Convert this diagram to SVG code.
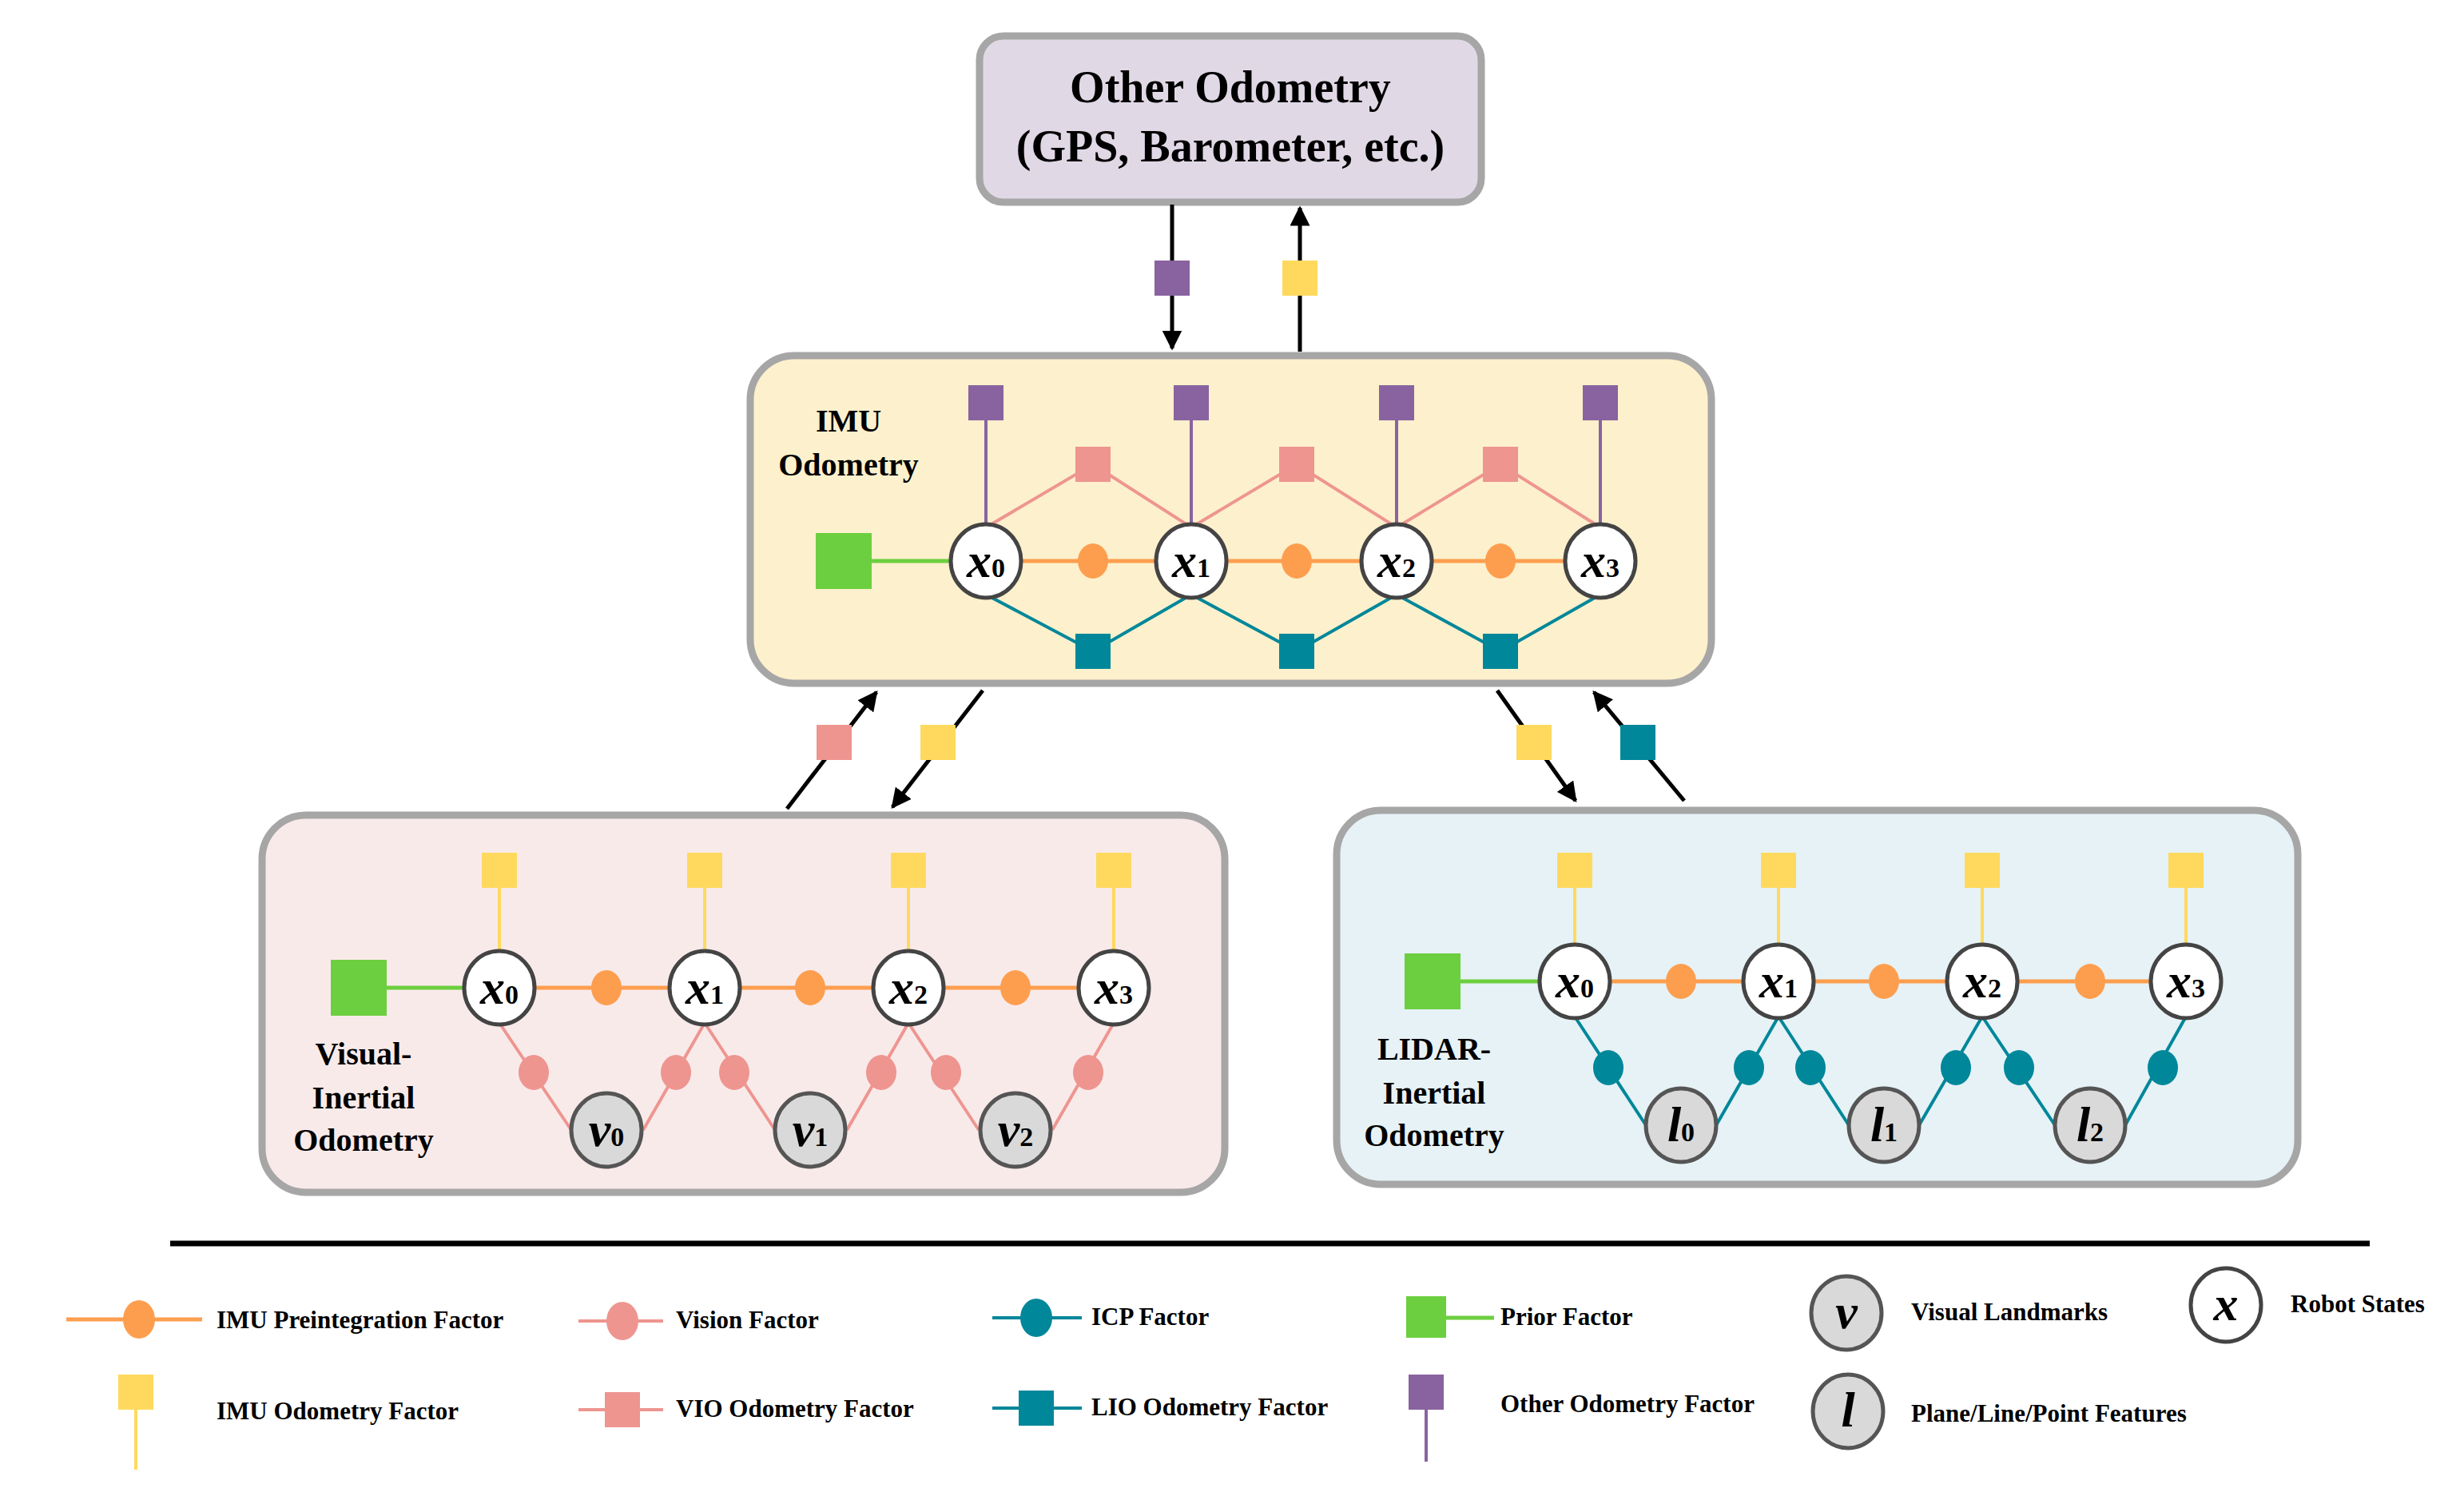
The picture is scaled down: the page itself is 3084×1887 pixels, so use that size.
<svg xmlns="http://www.w3.org/2000/svg" width="3084" height="1887" viewBox="0 0 3084 1887">
<defs>
<marker id="ah" viewBox="0 0 10 10" refX="9" refY="5" markerWidth="5" markerHeight="5" orient="auto"><path d="M0,0 L10,5 L0,10 z" fill="#000"/></marker>
<style>
.box{stroke:#a6a6a6;stroke-width:9}
.t{font-family:'Liberation Serif','Times New Roman','DejaVu Serif',serif;font-weight:bold;fill:#000}
.st{fill:#fff;stroke:#444;stroke-width:5}
.lm{fill:#d9d9d9;stroke:#555;stroke-width:5}
.nl{font-family:'Liberation Serif','Times New Roman','DejaVu Serif',serif;font-weight:bold;font-style:italic;font-size:62px;text-anchor:middle}
.sub{font-style:normal;font-size:34px}
.or{stroke:#fd9e4f;stroke-width:5}
.pk{stroke:#ee9590;stroke-width:4}
.tl{stroke:#00879a;stroke-width:4}
.pu{stroke:#8963a0;stroke-width:4}
.ye{stroke:#fed95e;stroke-width:4}
.gr{stroke:#6ccf3f;stroke-width:5}
.ar{stroke:#000;stroke-width:5;marker-end:url(#ah)}
.lt{font-family:'Liberation Serif','Times New Roman','DejaVu Serif',serif;font-weight:bold;font-size:31px}
</style>
</defs>
<rect width="3084" height="1887" fill="#fff"/>

<g id="other-odometry">
<rect class="box" x="1226" y="45" width="628" height="208" rx="30" fill="#e1d8e6"/>
<text class="t" x="1540" y="128" font-size="56" text-anchor="middle">Other Odometry</text>
<text class="t" x="1540" y="202" font-size="56" text-anchor="middle">(GPS, Barometer, etc.)</text>
</g>

<g id="imu-box">
<rect class="box" x="939" y="445" width="1203" height="410" rx="55" fill="#fdf0cc"/>
<text class="t" x="1062" y="540" font-size="40" text-anchor="middle">IMU</text>
<text class="t" x="1062" y="595" font-size="40" text-anchor="middle">Odometry</text>
</g>
<g id="vio-box">
<rect class="box" x="328" y="1020" width="1205" height="472" rx="55" fill="#f9eaea"/>
<text class="t" x="455" y="1332" font-size="40" text-anchor="middle">Visual-</text>
<text class="t" x="455" y="1387" font-size="40" text-anchor="middle">Inertial</text>
<text class="t" x="455" y="1440" font-size="40" text-anchor="middle">Odometry</text>
</g>
<g id="lio-box">
<rect class="box" x="1673" y="1014" width="1203" height="468" rx="55" fill="#e6f2f6"/>
<text class="t" x="1795" y="1326" font-size="40" text-anchor="middle">LIDAR-</text>
<text class="t" x="1795" y="1381" font-size="40" text-anchor="middle">Inertial</text>
<text class="t" x="1795" y="1434" font-size="40" text-anchor="middle">Odometry</text>
</g>

<g id="connectors">
<line class="ar" x1="1467" y1="256" x2="1467" y2="436"/>
<line class="ar" x1="1627" y1="440" x2="1627" y2="260"/>
<line class="ar" x1="985" y1="1012" x2="1097" y2="866"/>
<line class="ar" x1="1230" y1="864" x2="1117" y2="1010"/>
<line class="ar" x1="1874" y1="864" x2="1972" y2="1002"/>
<line class="ar" x1="2108" y1="1002" x2="1995" y2="866"/>
<line class="gr" x1="1090" y1="702" x2="1190" y2="702"/>
<line class="or" x1="1234" y1="702" x2="2003" y2="702"/>
<path class="pk" fill="none" d="M1234,660 L1368,581 L1491,660 L1623,581 L1748,660 L1878,581 L2003,660"/>
<path class="tl" fill="none" d="M1234,744 L1368,815 L1491,744 L1623,815 L1748,744 L1878,815 L2003,744"/>
<line class="pu" x1="1234" y1="504" x2="1234" y2="660"/>
<line class="pu" x1="1491" y1="504" x2="1491" y2="660"/>
<line class="pu" x1="1748" y1="504" x2="1748" y2="660"/>
<line class="pu" x1="2003" y1="504" x2="2003" y2="660"/>
<line class="gr" x1="470" y1="1236" x2="590" y2="1236"/>
<line class="or" x1="625" y1="1236" x2="1394" y2="1236"/>
<line class="ye" x1="625" y1="1089" x2="625" y2="1190"/>
<line class="ye" x1="882" y1="1089" x2="882" y2="1190"/>
<line class="ye" x1="1137" y1="1089" x2="1137" y2="1190"/>
<line class="ye" x1="1394" y1="1089" x2="1394" y2="1190"/>
<path class="pk" fill="none" d="M625,1280 L715,1414 M882,1280 L805,1414 M882,1280 L970,1414 M1137,1280 L1060,1414 M1137,1280 L1225,1414 M1394,1280 L1317,1414"/>
<line class="gr" x1="1815" y1="1228" x2="1935" y2="1228"/>
<line class="or" x1="1971" y1="1228" x2="2736" y2="1228"/>
<line class="ye" x1="1971" y1="1089" x2="1971" y2="1185"/>
<line class="ye" x1="2226" y1="1089" x2="2226" y2="1185"/>
<line class="ye" x1="2481" y1="1089" x2="2481" y2="1185"/>
<line class="ye" x1="2736" y1="1089" x2="2736" y2="1185"/>
<path class="tl" fill="none" d="M1971,1272 L2060,1408 M2226,1272 L2148,1408 M2226,1272 L2314,1408 M2481,1272 L2402,1408 M2481,1272 L2572,1408 M2736,1272 L2660,1408"/>
<line stroke="#000" stroke-width="7" x1="213" y1="1556" x2="2966" y2="1556"/>
</g>

<g id="factors">
<rect x="1445" y="326" width="44" height="44" fill="#8963a0"/>
<rect x="1605" y="326" width="44" height="44" fill="#fed95e"/>
<rect x="1022" y="907" width="44" height="44" fill="#ee9590"/>
<rect x="1152" y="907" width="44" height="44" fill="#fed95e"/>
<rect x="1898" y="907" width="44" height="44" fill="#fed95e"/>
<rect x="2028" y="907" width="44" height="44" fill="#00879a"/>
<rect x="1021" y="667" width="70" height="70" fill="#6ccf3f"/>
<rect x="1212" y="482" width="44" height="44" fill="#8963a0"/>
<rect x="1469" y="482" width="44" height="44" fill="#8963a0"/>
<rect x="1726" y="482" width="44" height="44" fill="#8963a0"/>
<rect x="1981" y="482" width="44" height="44" fill="#8963a0"/>
<rect x="1346" y="559" width="44" height="44" fill="#ee9590"/>
<rect x="1601" y="559" width="44" height="44" fill="#ee9590"/>
<rect x="1856" y="559" width="44" height="44" fill="#ee9590"/>
<rect x="1346" y="793" width="44" height="44" fill="#00879a"/>
<rect x="1601" y="793" width="44" height="44" fill="#00879a"/>
<rect x="1856" y="793" width="44" height="44" fill="#00879a"/>
<ellipse cx="1368" cy="702" rx="19" ry="22" fill="#fd9e4f"/>
<ellipse cx="1623" cy="702" rx="19" ry="22" fill="#fd9e4f"/>
<ellipse cx="1878" cy="702" rx="19" ry="22" fill="#fd9e4f"/>
<rect x="414" y="1201" width="70" height="70" fill="#6ccf3f"/>
<rect x="603" y="1067" width="44" height="44" fill="#fed95e"/>
<rect x="860" y="1067" width="44" height="44" fill="#fed95e"/>
<rect x="1115" y="1067" width="44" height="44" fill="#fed95e"/>
<rect x="1372" y="1067" width="44" height="44" fill="#fed95e"/>
<ellipse cx="759" cy="1236" rx="19" ry="22" fill="#fd9e4f"/>
<ellipse cx="1014" cy="1236" rx="19" ry="22" fill="#fd9e4f"/>
<ellipse cx="1271" cy="1236" rx="19" ry="22" fill="#fd9e4f"/>
<ellipse cx="668" cy="1342" rx="19" ry="22" fill="#ee9590"/>
<ellipse cx="846" cy="1342" rx="19" ry="22" fill="#ee9590"/>
<ellipse cx="919" cy="1342" rx="19" ry="22" fill="#ee9590"/>
<ellipse cx="1103" cy="1342" rx="19" ry="22" fill="#ee9590"/>
<ellipse cx="1184" cy="1342" rx="19" ry="22" fill="#ee9590"/>
<ellipse cx="1362" cy="1342" rx="19" ry="22" fill="#ee9590"/>
<rect x="1758" y="1193" width="70" height="70" fill="#6ccf3f"/>
<rect x="1949" y="1067" width="44" height="44" fill="#fed95e"/>
<rect x="2204" y="1067" width="44" height="44" fill="#fed95e"/>
<rect x="2459" y="1067" width="44" height="44" fill="#fed95e"/>
<rect x="2714" y="1067" width="44" height="44" fill="#fed95e"/>
<ellipse cx="2104" cy="1228" rx="19" ry="22" fill="#fd9e4f"/>
<ellipse cx="2358" cy="1228" rx="19" ry="22" fill="#fd9e4f"/>
<ellipse cx="2616" cy="1228" rx="19" ry="22" fill="#fd9e4f"/>
<ellipse cx="2013" cy="1336" rx="19" ry="22" fill="#00879a"/>
<ellipse cx="2189" cy="1336" rx="19" ry="22" fill="#00879a"/>
<ellipse cx="2266" cy="1336" rx="19" ry="22" fill="#00879a"/>
<ellipse cx="2448" cy="1336" rx="19" ry="22" fill="#00879a"/>
<ellipse cx="2527" cy="1336" rx="19" ry="22" fill="#00879a"/>
<ellipse cx="2707" cy="1336" rx="19" ry="22" fill="#00879a"/>
</g>

<g id="imu-x0"><ellipse class="st" cx="1234" cy="702" rx="44" ry="46"/><text class="nl" x="1234" y="722">x<tspan class="sub">0</tspan></text></g>
<g id="imu-x1"><ellipse class="st" cx="1491" cy="702" rx="44" ry="46"/><text class="nl" x="1491" y="722">x<tspan class="sub">1</tspan></text></g>
<g id="imu-x2"><ellipse class="st" cx="1748" cy="702" rx="44" ry="46"/><text class="nl" x="1748" y="722">x<tspan class="sub">2</tspan></text></g>
<g id="imu-x3"><ellipse class="st" cx="2003" cy="702" rx="44" ry="46"/><text class="nl" x="2003" y="722">x<tspan class="sub">3</tspan></text></g>

<g id="vio-x0"><ellipse class="st" cx="625" cy="1236" rx="44" ry="46"/><text class="nl" x="625" y="1256">x<tspan class="sub">0</tspan></text></g>
<g id="vio-x1"><ellipse class="st" cx="882" cy="1236" rx="44" ry="46"/><text class="nl" x="882" y="1256">x<tspan class="sub">1</tspan></text></g>
<g id="vio-x2"><ellipse class="st" cx="1137" cy="1236" rx="44" ry="46"/><text class="nl" x="1137" y="1256">x<tspan class="sub">2</tspan></text></g>
<g id="vio-x3"><ellipse class="st" cx="1394" cy="1236" rx="44" ry="46"/><text class="nl" x="1394" y="1256">x<tspan class="sub">3</tspan></text></g>
<g id="vio-v0"><ellipse class="lm" cx="759" cy="1414" rx="44" ry="46"/><text class="nl" x="759" y="1434">v<tspan class="sub">0</tspan></text></g>
<g id="vio-v1"><ellipse class="lm" cx="1014" cy="1414" rx="44" ry="46"/><text class="nl" x="1014" y="1434">v<tspan class="sub">1</tspan></text></g>
<g id="vio-v2"><ellipse class="lm" cx="1271" cy="1414" rx="44" ry="46"/><text class="nl" x="1271" y="1434">v<tspan class="sub">2</tspan></text></g>

<g id="lio-x0"><ellipse class="st" cx="1971" cy="1228" rx="44" ry="46"/><text class="nl" x="1971" y="1248">x<tspan class="sub">0</tspan></text></g>
<g id="lio-x1"><ellipse class="st" cx="2226" cy="1228" rx="44" ry="46"/><text class="nl" x="2226" y="1248">x<tspan class="sub">1</tspan></text></g>
<g id="lio-x2"><ellipse class="st" cx="2481" cy="1228" rx="44" ry="46"/><text class="nl" x="2481" y="1248">x<tspan class="sub">2</tspan></text></g>
<g id="lio-x3"><ellipse class="st" cx="2736" cy="1228" rx="44" ry="46"/><text class="nl" x="2736" y="1248">x<tspan class="sub">3</tspan></text></g>
<g id="lio-l0"><ellipse class="lm" cx="2104" cy="1408" rx="44" ry="46"/><text class="nl" x="2104" y="1428">l<tspan class="sub">0</tspan></text></g>
<g id="lio-l1"><ellipse class="lm" cx="2358" cy="1408" rx="44" ry="46"/><text class="nl" x="2358" y="1428">l<tspan class="sub">1</tspan></text></g>
<g id="lio-l2"><ellipse class="lm" cx="2616" cy="1408" rx="44" ry="46"/><text class="nl" x="2616" y="1428">l<tspan class="sub">2</tspan></text></g>

<g id="legend">
<line class="or" x1="83" y1="1651" x2="253" y2="1651"/><ellipse cx="174" cy="1651" rx="20" ry="24" fill="#fd9e4f"/>
<text class="lt" x="271" y="1662">IMU Preintegration Factor</text>
<line class="pk" stroke-width="6" x1="724" y1="1653" x2="830" y2="1653"/><ellipse cx="779" cy="1653" rx="20" ry="24" fill="#ee9590"/>
<text class="lt" x="846" y="1662">Vision Factor</text>
<line class="tl" stroke-width="6" x1="1242" y1="1649" x2="1354" y2="1649"/><ellipse cx="1297" cy="1649" rx="20" ry="24" fill="#00879a"/>
<text class="lt" x="1366" y="1658">ICP Factor</text>
<line class="gr" stroke-width="6" x1="1785" y1="1649" x2="1870" y2="1649"/><rect x="1760" y="1622" width="50" height="52" fill="#6ccf3f"/>
<text class="lt" x="1878" y="1658">Prior Factor</text>
<ellipse class="lm" cx="2311" cy="1643" rx="44" ry="46"/><text class="nl" x="2311" y="1662">v</text>
<text class="lt" x="2392" y="1652">Visual Landmarks</text>
<ellipse class="st" cx="2786" cy="1633" rx="44" ry="46"/><text class="nl" x="2786" y="1652">x</text>
<text class="lt" x="2867" y="1642">Robot States</text>
<line class="ye" stroke-width="3" x1="170" y1="1742" x2="170" y2="1839"/><rect x="148" y="1720" width="44" height="44" fill="#fed95e"/>
<text class="lt" x="271" y="1776">IMU Odometry Factor</text>
<line class="pk" stroke-width="6" x1="724" y1="1764" x2="830" y2="1764"/><rect x="757" y="1742" width="44" height="44" fill="#ee9590"/>
<text class="lt" x="846" y="1773">VIO Odometry Factor</text>
<line class="tl" stroke-width="6" x1="1242" y1="1762" x2="1354" y2="1762"/><rect x="1275" y="1740" width="44" height="44" fill="#00879a"/>
<text class="lt" x="1366" y="1771">LIO Odometry Factor</text>
<line class="pu" stroke-width="3" x1="1785" y1="1742" x2="1785" y2="1829"/><rect x="1763" y="1720" width="44" height="44" fill="#8963a0"/>
<text class="lt" x="1878" y="1767">Other Odometry Factor</text>
<ellipse class="lm" cx="2313" cy="1766" rx="44" ry="46"/><text class="nl" x="2313" y="1785">l</text>
<text class="lt" x="2392" y="1779">Plane/Line/Point Features</text>
</g>
</svg>
